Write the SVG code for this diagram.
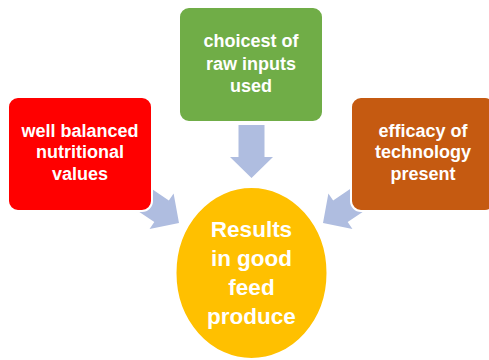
<svg xmlns="http://www.w3.org/2000/svg" width="489" height="360" viewBox="0 0 489 360">
<style>
.box{stroke:#FFFFFF;stroke-width:2}
.lbl{font-family:"Liberation Sans",Arial,sans-serif;font-weight:bold;fill:#FFFFFF;text-anchor:middle}
.sm{font-size:18px}
.lg{font-size:22.5px}
.arr{fill:#AFBDE0}
</style>
<defs>
<polygon id="arrow" points="0,-13 32,-13 32,-21.5 53,0 32,21.5 32,13 0,13"/>
</defs>
<rect width="489" height="360" fill="#FFFFFF"/>
<g id="connectors" class="arr">
<use href="#arrow" transform="translate(251.5,178) rotate(90) translate(-53,0)"/>
<use href="#arrow" transform="translate(179,223) rotate(34) translate(-53,0)"/>
<use href="#arrow" transform="translate(323,223) rotate(146) translate(-53,0)"/>
</g>
<g id="node-raw-inputs">
<rect class="box" x="179" y="7" width="144" height="115" rx="10" fill="#70AD47"/>
<text class="lbl sm" x="251" y="47">choicest of</text>
<text class="lbl sm" x="251" y="70">raw inputs</text>
<text class="lbl sm" x="251" y="92">used</text>
</g>
<g id="node-nutritional">
<rect class="box" x="8" y="97" width="144" height="114" rx="10" fill="#FF0000"/>
<text class="lbl sm" x="80" y="137">well balanced</text>
<text class="lbl sm" x="80" y="158">nutritional</text>
<text class="lbl sm" x="80" y="180">values</text>
</g>
<g id="node-technology">
<rect class="box" x="351" y="97" width="144" height="114" rx="10" fill="#C55A11"/>
<text class="lbl sm" x="423" y="137">efficacy of</text>
<text class="lbl sm" x="423" y="158">technology</text>
<text class="lbl sm" x="423" y="180">present</text>
</g>
<g id="node-results">
<ellipse class="box" cx="251.5" cy="273" rx="76" ry="86" fill="#FFC000"/>
<text class="lbl lg" x="251.5" y="237">Results</text>
<text class="lbl lg" x="251.5" y="266">in good</text>
<text class="lbl lg" x="251.5" y="295">feed</text>
<text class="lbl lg" x="251.5" y="324">produce</text>
</g>
</svg>
